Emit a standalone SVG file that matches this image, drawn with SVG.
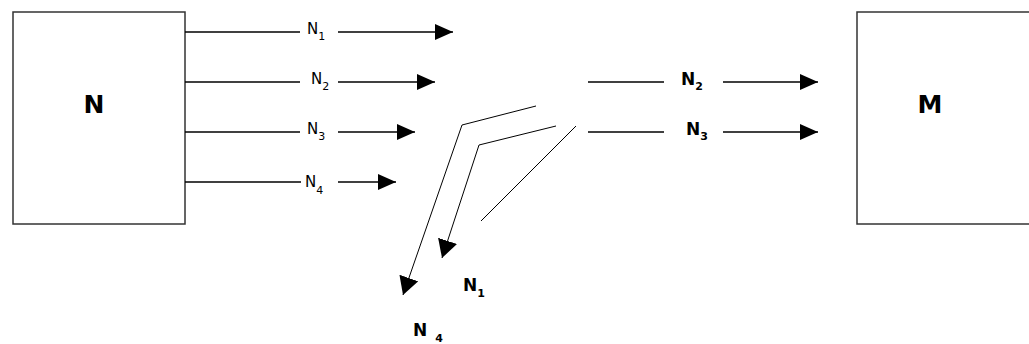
<svg xmlns="http://www.w3.org/2000/svg" width="1029" height="344" viewBox="0 0 1029 344">
<style>
.box{fill:#fff;stroke:#333;stroke-width:1.5}
.ln{fill:none;stroke:#000;stroke-width:1.3}
.thin{fill:none;stroke:#000;stroke-width:1}
.t{font-family:"DejaVu Sans","Liberation Sans",sans-serif;fill:#000;font-size:15px}
.b{font-family:"DejaVu Sans","Liberation Sans",sans-serif;fill:#000;font-weight:bold;font-size:17px}
.big{font-family:"DejaVu Sans","Liberation Sans",sans-serif;fill:#000;font-weight:bold;font-size:25px}
.s{font-size:11px}
</style>
<defs>
<marker id="ah" markerUnits="userSpaceOnUse" markerWidth="20" markerHeight="18" refX="18" refY="8" orient="auto">
<path d="M0,0 L18,8 L0,16 z" fill="#000"/>
</marker>
<marker id="ah2" markerUnits="userSpaceOnUse" markerWidth="22" markerHeight="22" refX="18" refY="10" orient="auto">
<path d="M0,0 L18,10 L0,20 z" fill="#000"/>
</marker>
</defs>
<rect width="1029" height="344" fill="#fff"/>
<g id="node-N">
<rect class="box" x="13" y="12" width="172" height="212"/>
<text class="big" x="94" y="113" text-anchor="middle">N</text>
</g>
<g id="node-M">
<rect class="box" x="857" y="12" width="200" height="212"/>
<text class="big" x="930" y="113" text-anchor="middle">M</text>
</g>
<g id="connectors">
<line class="ln" x1="185" y1="32" x2="300" y2="32"/>
<line class="ln" x1="338" y1="32" x2="453" y2="32" marker-end="url(#ah)"/>
<line class="ln" x1="185" y1="82" x2="300" y2="82"/>
<line class="ln" x1="338" y1="82" x2="435" y2="82" marker-end="url(#ah)"/>
<line class="ln" x1="185" y1="132" x2="300" y2="132"/>
<line class="ln" x1="338" y1="132" x2="415" y2="132" marker-end="url(#ah)"/>
<line class="ln" x1="185" y1="182" x2="301" y2="182"/>
<line class="ln" x1="338" y1="182" x2="396" y2="182" marker-end="url(#ah)"/>
<line class="ln" x1="588" y1="82" x2="664" y2="82"/>
<line class="ln" x1="723" y1="82" x2="818" y2="82" marker-end="url(#ah)"/>
<line class="ln" x1="588" y1="132" x2="664" y2="132"/>
<line class="ln" x1="723" y1="132" x2="818" y2="132" marker-end="url(#ah)"/>
<polyline class="thin" points="536,106 462,125 403,295" marker-end="url(#ah2)"/>
<polyline class="thin" points="556,126 479,145 442,258" marker-end="url(#ah2)"/>
<line class="thin" x1="576" y1="126" x2="481" y2="221"/>
</g>
<g id="labels">
<text class="t" x="307" y="34">N<tspan class="s" dy="6">1</tspan></text>
<text class="t" x="311" y="84">N<tspan class="s" dy="6">2</tspan></text>
<text class="t" x="307" y="134">N<tspan class="s" dy="6">3</tspan></text>
<text class="t" x="305" y="187">N<tspan class="s" dy="7">4</tspan></text>
<text class="b" x="681" y="85">N<tspan class="s" dy="5">2</tspan></text>
<text class="b" x="686" y="135">N<tspan class="s" dy="5">3</tspan></text>
<text class="b" x="463" y="291">N<tspan class="s" dy="6">1</tspan></text>
<text class="b" x="413" y="336">N<tspan class="s" dy="6" dx="8">4</tspan></text>
</g>
</svg>
